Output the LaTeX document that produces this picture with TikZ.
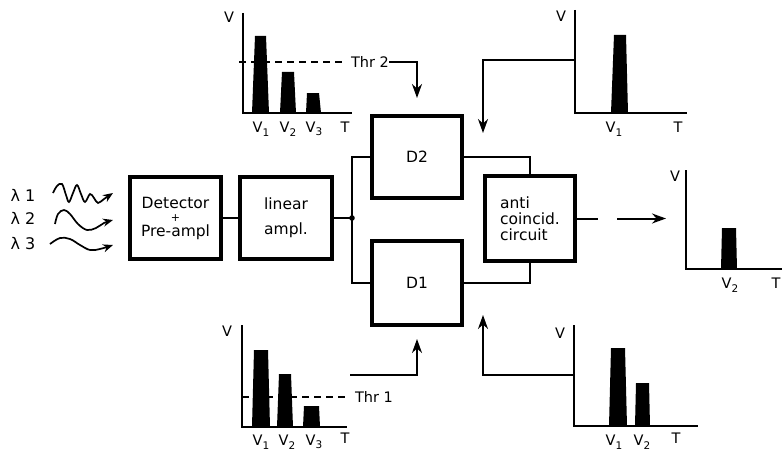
\documentclass[tikz,border=0pt]{standalone}
\usepackage{fontspec}
\setmainfont{DejaVu Sans}
\usetikzlibrary{arrows.meta}
\newcommand\sbs[1]{\raisebox{-3.5pt}{\fontsize{10.5}{10.5}\selectfont #1}}
\begin{document}
\begin{tikzpicture}[x=1pt,y=-1pt,
  block/.style={draw, line width=4pt, align=center, font=\fontsize{15.5}{16}\selectfont, inner sep=0pt},
  conn/.style={line width=2pt},
  axis/.style={line width=2.2pt},
  arr/.style={line width=2pt, -{Stealth[length=14pt,width=10pt]}},
  warr/.style={line width=1.7pt, -{Stealth[length=10pt,width=8pt]}},
  lbl/.style={font=\fontsize{14.5}{15}\selectfont, inner sep=0pt},
  thr/.style={line width=1.6pt, dash pattern=on 7pt off 5pt},
  bar/.style={fill=black}]
\useasboundingbox (0,0) rectangle (782,460);

% ---------- blocks ----------
\node[block, minimum width=91pt, minimum height=82pt] (det) at (175.5,218)
  {Detector\\[-3pt]{\fontsize{11}{10}\selectfont +}\\[-1pt]Pre-ampl};
\node[block, minimum width=92pt, minimum height=82pt] (lin) at (286,218)
  {linear\\[9pt]ampl.};
\node[block, minimum width=90pt, minimum height=82pt] (d2) at (417,157) {D2};
\node[block, minimum width=90pt, minimum height=84pt] (d1) at (417,283) {D1};
\node[block, minimum width=90pt, minimum height=85pt, align=left] (anti) at (530,218.5)
  {anti\\coincid.\\circuit};

% ---------- wavelengths ----------
\node[lbl, font=\fontsize{16}{16}\selectfont] (l1) at (23,195) {λ 1};
\node[lbl, font=\fontsize{16}{16}\selectfont] (l2) at (23,218) {λ 2};
\node[lbl, font=\fontsize{16}{16}\selectfont] (l3) at (23,244) {λ 3};
\draw[warr] plot[smooth, tension=0.6] coordinates {(53,193) (57,186) (62,184) (66,195) (69,202) (73,193) (77,185) (81,194) (85,202) (90,194) (94,198) (98,203) (104,199) (113,193)};
\draw[warr] plot[smooth, tension=0.6] coordinates {(55,224) (58,214) (64,210) (70,214) (78,224) (87,230) (96,228) (104,223) (113,220)};
\draw[warr] plot[smooth, tension=0.6] coordinates {(50,244) (60,238) (70,239) (80,245) (90,250) (100,249) (113,245)};

% ---------- connectors ----------
\coordinate (j) at (352,218);
\draw[conn] (det.east) -- (lin.west);
\draw[conn] (lin.east) -- (j);
\draw[conn] (j) |- (d2.west);
\draw[conn] (j) |- (d1.west);
\fill (j) circle (2.8pt);
\draw[conn] (d2.east) -| (anti.north);
\draw[conn] (d1.east) -| (anti.south);
\coordinate (ao) at (598,218.5);
\draw[conn] (anti.east) -- (ao);
\coordinate (oa1) at (617,218.5);
\coordinate (oa2) at (666,218.5);
\draw[arr] (oa1) -- (oa2);

% ---------- top-left graph ----------
\draw[axis] (243,13) -- (243,113) -- (352,113);
\node[lbl] (tlv) at (229,17) {V};
\fill[bar] (252,113) -- (255,36) -- (266,36) -- (269,113) -- cycle;
\fill[bar] (280,113) -- (282,72) -- (294,72) -- (296,113) -- cycle;
\fill[bar] (306,113) -- (307,93) -- (319,93) -- (321,113) -- cycle;
\draw[thr] (239,62) -- (346,62);
\node[lbl] (t2) at (370,62) {Thr 2};
\draw[arr] (t2.east) -| ([yshift=16pt]d2.north);
\node[lbl] at (261,129) {V\sbs{1}};
\node[lbl] at (288,129) {V\sbs{2}};
\node[lbl] at (314,129) {V\sbs{3}};
\node[lbl] at (345,127) {T};

% ---------- bottom-left graph ----------
\draw[axis] (242,325) -- (242,427) -- (347,427);
\node[lbl] (blv) at (227,331) {V};
\fill[bar] (252,427) -- (254,350) -- (268,350) -- (270,427) -- cycle;
\fill[bar] (277,427) -- (279,374) -- (291,374) -- (293,427) -- cycle;
\fill[bar] (303,427) -- (304,406) -- (319,406) -- (320,427) -- cycle;
\draw[thr] (242,397) -- (346,397);
\node[lbl] (t1) at (374,397) {Thr 1};
\coordinate (b1) at (350,375);
\draw[arr] (b1) -| ([yshift=-12pt]d1.south);
\node[lbl] at (261,442) {V\sbs{1}};
\node[lbl] at (287,442) {V\sbs{2}};
\node[lbl] at (314,442) {V\sbs{3}};
\node[lbl] at (345,438) {T};

% ---------- top-right graph ----------
\draw[axis] (575,10) -- (575,113) -- (687,113);
\node[lbl] (trv) at (561,16) {V};
\fill[bar] (611,113) -- (614,35) -- (626,35) -- (628,113) -- cycle;
\coordinate (fb2) at (575,60);
\draw[arr] (fb2) -| ([yshift=41pt]anti.north west);
\node[lbl] at (614,129) {V\sbs{1}};
\node[lbl] at (678,127) {T};

% ---------- bottom-right graph ----------
\draw[axis] (574,325) -- (574,426) -- (698,426);
\node[lbl] (brv) at (560,333) {V};
\fill[bar] (609,426) -- (611,348) -- (625,348) -- (627,426) -- cycle;
\fill[bar] (635,426) -- (636,383) -- (649,383) -- (650,426) -- cycle;
\coordinate (fb1) at (574,375);
\draw[arr] (fb1) -| ([yshift=-52pt]anti.south west);
\node[lbl] at (614,442) {V\sbs{1}};
\node[lbl] at (642,442) {V\sbs{2}};
\node[lbl] at (676,438) {T};

% ---------- output graph ----------
\draw[axis] (686,170) -- (686,269) -- (782,269);
\node[lbl] (ov) at (675,176) {V};
\fill[bar] (721,269) -- (722,228) -- (736,228) -- (737,269) -- cycle;
\node[lbl] at (730,285) {V\sbs{2}};
\node[lbl] at (776,283) {T};
\end{tikzpicture}
\end{document}
